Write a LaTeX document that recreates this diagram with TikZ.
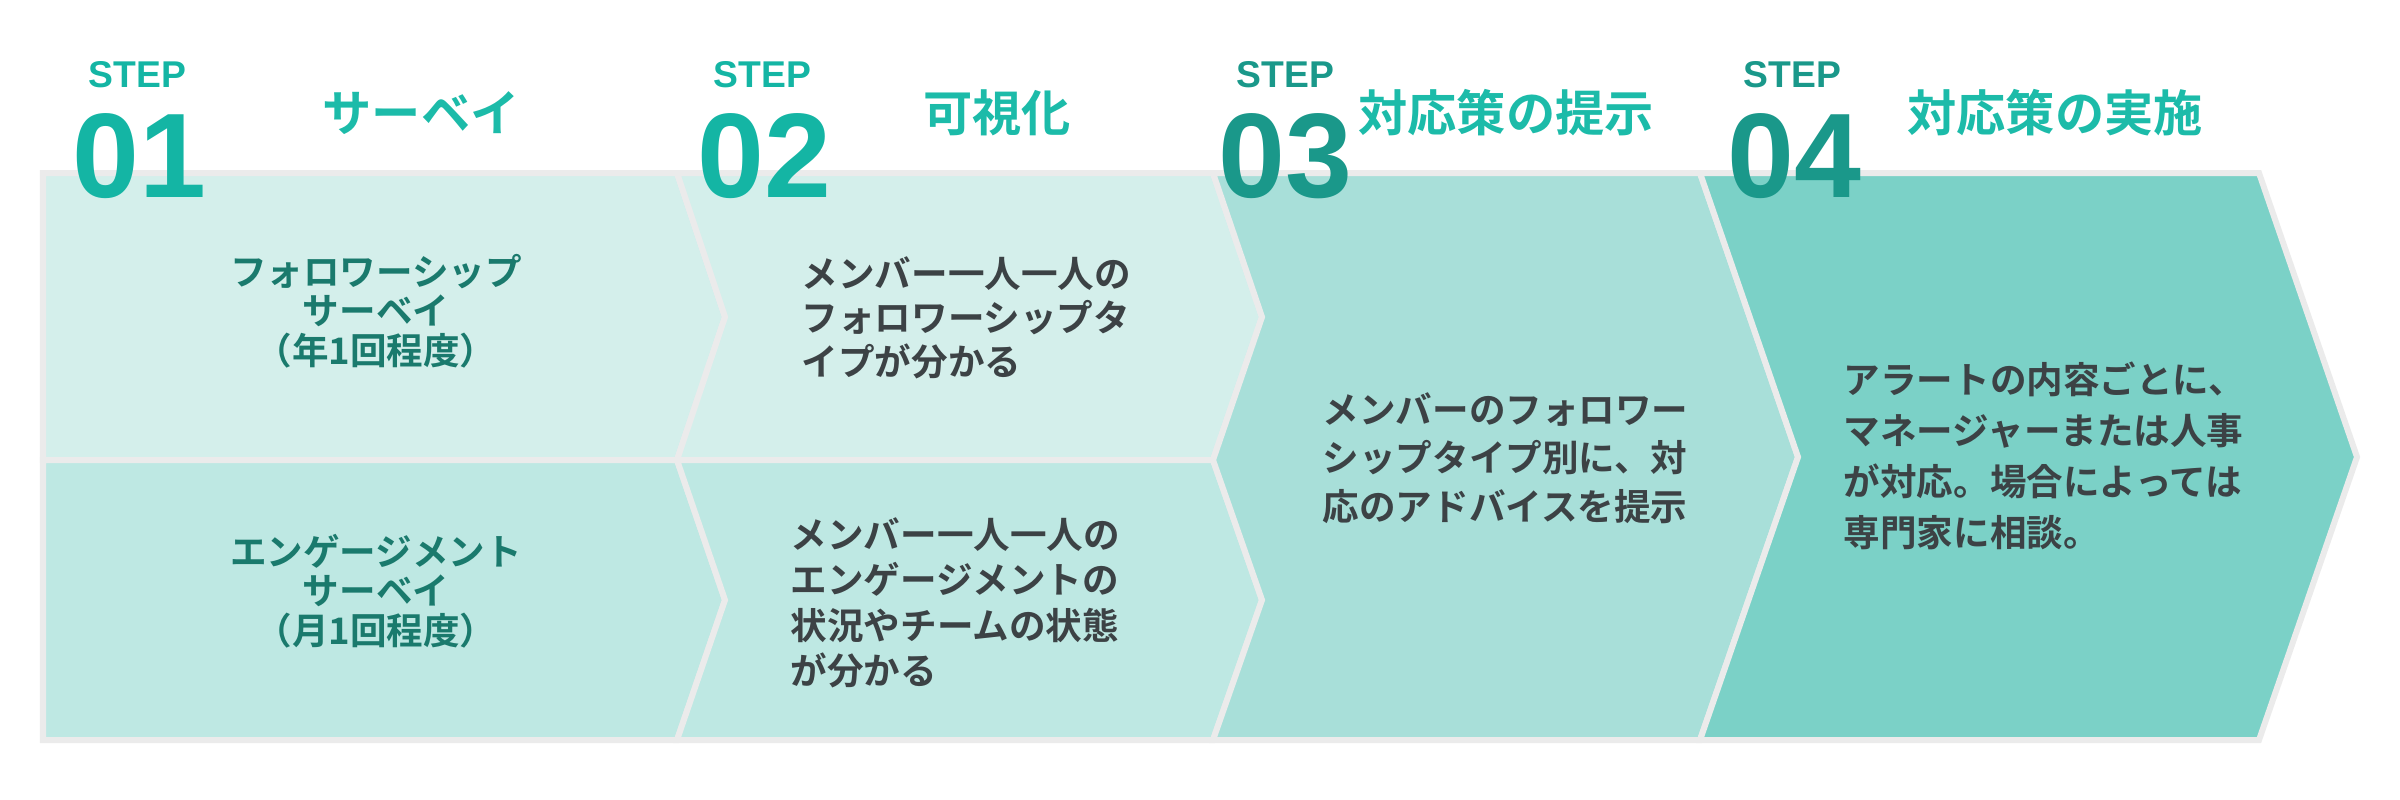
\documentclass[tikz,border=0pt]{standalone}
\usepackage{fontspec}
\setmainfont{Liberation Sans}
\newfontfamily\jpfont{Noto Sans CJK JP Bold}
\usetikzlibrary{positioning}

\definecolor{frameGray}{HTML}{EBEBEB}
\definecolor{rowTop}{HTML}{D4EFEB}
\definecolor{rowBot}{HTML}{BEE8E3}
\definecolor{colThree}{HTML}{A8DFD9}
\definecolor{colFour}{HTML}{7BD1C7}
\definecolor{tealLight}{HTML}{14B5A4}
\definecolor{tealDark}{HTML}{1A988A}
\definecolor{titleTeal}{HTML}{1CBBA9}
\definecolor{surveyText}{HTML}{1A7A6D}
\definecolor{bodyText}{HTML}{3C4245}

\tikzset{
  panel/.style={draw=frameGray,line width=0.6mm},
  steplabel/.style={anchor=base west,inner sep=0pt,font=\bfseries\fontsize{10.6}{12}\selectfont},
  stepnum/.style={anchor=base west,inner sep=0pt,font=\bfseries\fontsize{34.2}{36}\selectfont},
  titletext/.style={anchor=base,inner sep=0pt,text=titleTeal,font=\jpfont\fontsize{14}{16}\selectfont},
  bodytext/.style={inner sep=0pt,text=bodyText,align=left,font=\jpfont\fontsize{10.4}{#1}\selectfont}
}

\begin{document}
\begin{tikzpicture}[x=0.01cm,y=-0.01cm]
  \useasboundingbox (0,0) rectangle (2400,799);
  % chevron panels
  \path[panel,fill=rowTop] (43,173) -- (677,173) -- (725,317) -- (677,460) -- (43,460) -- cycle;
  \path[panel,fill=rowBot] (43,460) -- (677,460) -- (725,600) -- (677,740) -- (43,740) -- cycle;
  \path[panel,fill=rowTop] (677,173) -- (1213,173) -- (1262,317) -- (1213,460) -- (677,460) -- (725,317) -- cycle;
  \path[panel,fill=rowBot] (677,460) -- (1213,460) -- (1262,600) -- (1213,740) -- (677,740) -- (725,600) -- cycle;
  \path[panel,fill=colThree] (1213,173) -- (1700,173) -- (1798,457) -- (1700,740) -- (1213,740)
    -- (1262,600) -- (1213,460) -- (1262,317) -- cycle;
  \path[panel,fill=colFour] (1700,173) -- (2259,173) -- (2357,457) -- (2259,740) -- (1700,740) -- (1798,457) -- cycle;

  % step headers
  \foreach \n/\sx/\nx/\clr in {1/88/72/tealLight,2/713/697/tealLight,3/1236/1218/tealDark,4/1743/1727/tealDark}{
    \node[steplabel,text=\clr] (step\n) at (\sx,87) {STEP};
    \node[stepnum,text=\clr] (num\n) at (\nx,197) {0\n};
  }
  \foreach \n/\tx/\ttl in {1/421/サーベイ,2/997/可視化,3/1506/対応策の提示,4/2055/対応策の実施}{
    \node[titletext] (title\n) at (\tx,131) {\ttl};
  }

  % panel texts
  \node[bodytext=11.2pt,text=surveyText,align=center] (followSurvey) at (376,311)
    {フォロワーシップ\\サーベイ\\（年1回程度）};
  \node[bodytext=11.2pt,text=surveyText,align=center] (engageSurvey) at (376,591)
    {エンゲージメント\\サーベイ\\（月1回程度）};
  \node[bodytext=12.5pt,anchor=west] (followView) at (801,318)
    {メンバー一人一人の\\フォロワーシップタ\\イプが分かる};
  \node[bodytext=12.9pt,anchor=west] (engageView) at (790,603)
    {メンバー一人一人の\\エンゲージメントの\\状況やチームの状態\\が分かる};
  \node[bodytext=13.8pt,anchor=west] (advice) at (1322,458)
    {メンバーのフォロワー\\シップタイプ別に、対\\応のアドバイスを提示};
  \node[bodytext=14.5pt,anchor=west] (action) at (1843,456)
    {アラートの内容ごとに、\\マネージャーまたは人事\\が対応。場合によっては\\専門家に相談。};
\end{tikzpicture}
\end{document}
